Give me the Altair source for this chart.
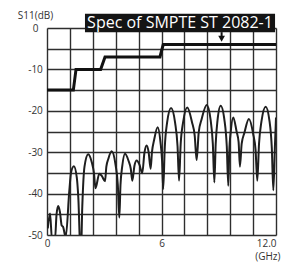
import altair as alt
import pandas as pd

# Measured S11 curve (GHz, dB)
freq = [0.04, 0.16, 0.26, 0.42, 0.50, 0.59, 0.68, 0.77, 0.84, 0.98,
        1.17, 1.26, 1.41, 1.56, 1.64, 1.77,
        1.85, 1.965, 2.16, 2.35, 2.46, 2.54,
        2.74, 2.88, 3.04,
        3.11, 3.215, 3.39, 3.59, 3.71, 3.79,
        3.85, 3.94, 4.09, 4.28, 4.39, 4.47,
        4.585, 4.70, 4.845, 4.99,
        5.105, 5.22, 5.325, 5.43,
        5.50, 5.615, 5.80, 5.945, 6.03, 6.09,
        6.17, 6.295, 6.50, 6.71, 6.84, 6.92,
        7.005, 7.135, 7.35, 7.595, 7.74, 7.84,
        7.95, 8.105, 8.37, 8.57, 8.69, 8.77,
        8.84, 8.935, 9.10, 9.30, 9.42, 9.50,
        9.55, 9.63, 9.76, 9.935, 10.04, 10.11,
        10.20, 10.345, 10.58, 10.80, 10.93, 11.02,
        11.11, 11.24, 11.46, 11.66, 11.78, 11.86,
        11.94, 12.0]
s11 = [-48.4, -44.8, -51, -51, -45, -43, -44.5, -47.7, -48, -50.5,
       -39.3, -34.9, -33.4, -36.1, -40.9, -56,
       -43, -33.5, -30.5, -32.5, -35, -38.7,
       -35.2, -35.8, -37,
       -33.5, -31.6, -29.8, -33, -37.8, -45.8,
       -38, -33.5, -30.4, -32.2, -34, -36.9,
       -33.2, -32, -33, -35.1,
       -30.2, -28.4, -30, -34,
       -30, -27, -24, -27.5, -32, -38.9,
       -29, -22.8, -19.3, -22.8, -28.5, -36.9,
       -28, -22.7, -19.2, -22.7, -26, -31.9,
       -25.2, -22, -18.6, -22.1, -28, -37.3,
       -28, -22.3, -18.8, -22.3, -28.5, -38.1,
       -30, -25, -21.6, -25, -27.5, -33.5,
       -28, -25.3, -22, -25.5, -29.5, -36.9,
       -28, -22.5, -19, -22.5, -29, -39.2,
       -29, -21.6]

# SMPTE ST 2082-1 spec mask
spec_x = [0, 1.38, 1.52, 2.81, 3.04, 5.92, 6.09, 12]
spec_y = [-15, -15, -10, -10, -7, -7, -4, -4]

# Axis ticks / grid
x_grid = [0, 1.2, 2.4, 3.6, 4.8, 6, 7.2, 8.4, 9.6, 10.8, 12]
x_tick_labels = {0: "0", 6: "6", 12: "12.0"}
y_grid = [0, -5, -10, -15, -20, -25, -30, -35, -40, -45, -50]

# Annotation
label_text = ["Spec of SMPTE ST 2082-1"]
box_x0, box_x1, box_y0, box_y1 = [1.99], [11.95], [3.45], [-1.0]
label_x, label_y = [6.97], [1.25]
arrow_x = [9.15]
arrow_shaft = [-1.0, -2.4]
arrow_tip = [-2.6]

FONT = "Open Sans"
TXT = "#333333"
GRID = "#2e2e2e"

xs = alt.Scale(domain=[0, 12], nice=False, zero=False)
ys = alt.Scale(domain=[-50, 0], nice=False, zero=False)

x_expr = " : ".join(f"datum.value == {k} ? '{v}'" for k, v in x_tick_labels.items()) + " : ''"

xaxis = alt.Axis(values=x_grid, grid=True, gridColor=GRID, gridWidth=1.4,
                 domain=False, ticks=False, labelExpr=x_expr, labelPadding=3,
                 labelFont=FONT, labelFontSize=10, labelColor=TXT,
                 labelAlign={"condition": {"test": "datum.value == 12", "value": "right"}, "value": "center"},
                 title="(GHz)", titleFont=FONT, titleFontSize=10, titleFontWeight="normal",
                 titleColor=TXT, titleX=233, titleY=21, titleAlign="right", titleBaseline="middle")
yaxis = alt.Axis(values=y_grid, grid=True, gridColor=GRID, gridWidth=1.4,
                 domain=False, ticks=False,
                 labelExpr="datum.value % 10 == 0 ? '' + datum.value : ''",
                 labelAlign="center", labelPadding=12, labelBaseline="middle",
                 labelFont=FONT, labelFontSize=10, labelColor=TXT,
                 title="S11(dB)", titleFont=FONT, titleFontSize=10, titleFontWeight="normal",
                 titleColor=TXT, titleAngle=0, titleX=-12, titleY=-13,
                 titleAlign="center", titleBaseline="middle")

curve_df = pd.DataFrame({"f": freq, "v": s11})
spec_df = pd.DataFrame({"f": spec_x, "v": spec_y})

curve = alt.Chart(curve_df).mark_line(color="#1e1e1e", strokeWidth=2, clip=True,
                                      interpolate="monotone").encode(
    x=alt.X("f:Q", scale=xs, axis=xaxis),
    y=alt.Y("v:Q", scale=ys, axis=yaxis),
)
spec = alt.Chart(spec_df).mark_line(color="#111111", strokeWidth=3).encode(
    x=alt.X("f:Q", scale=xs, axis=xaxis),
    y=alt.Y("v:Q", scale=ys, axis=yaxis),
)
box = alt.Chart(pd.DataFrame({"x0": box_x0, "x1": box_x1, "y0": box_y0, "y1": box_y1})).mark_rect(
    color="#141414").encode(
    x=alt.X("x0:Q", scale=xs, axis=xaxis), x2="x1:Q",
    y=alt.Y("y0:Q", scale=ys, axis=yaxis), y2="y1:Q",
)
label = alt.Chart(pd.DataFrame({"x": label_x, "y": label_y, "t": label_text})).mark_text(
    color="white", font=FONT, fontSize=16, align="center", baseline="middle").encode(
    x=alt.X("x:Q", scale=xs, axis=xaxis),
    y=alt.Y("y:Q", scale=ys, axis=yaxis),
    text="t:N",
)
shaft = alt.Chart(pd.DataFrame({"x": arrow_x * 2, "y": arrow_shaft})).mark_line(
    color="#111111", strokeWidth=2).encode(
    x=alt.X("x:Q", scale=xs, axis=xaxis),
    y=alt.Y("y:Q", scale=ys, axis=yaxis),
)
tip = alt.Chart(pd.DataFrame({"x": arrow_x, "y": arrow_tip})).mark_point(
    shape="triangle-down", filled=True, color="#111111", size=45, opacity=1).encode(
    x=alt.X("x:Q", scale=xs, axis=xaxis),
    y=alt.Y("y:Q", scale=ys, axis=yaxis),
)

chart = alt.layer(curve, spec, box, label, shaft, tip).properties(
    width=229, height=207,
    autosize=alt.AutoSizeParams(type="none"),
    padding={"left": 39, "top": 20, "right": 10, "bottom": 27},
).configure_view(fill="#e6e6e6", strokeWidth=0).configure(background="white")

chart.save("out.html", embed_options={"renderer": "svg", "actions": False})
